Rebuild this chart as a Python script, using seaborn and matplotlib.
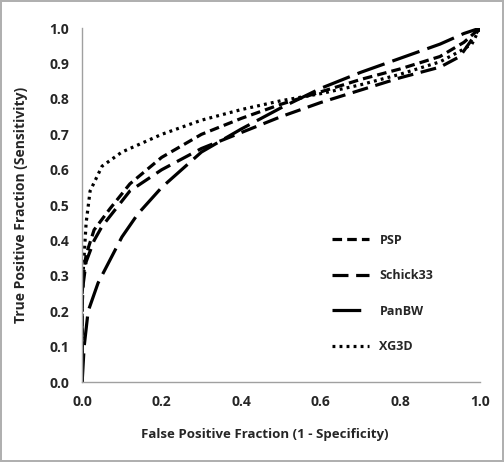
import pandas as pd
import matplotlib
matplotlib.use("Agg")
import matplotlib.pyplot as plt
import seaborn as sns

# ROC curve points
psp_x = [0, 0.0, 0.003, 0.01, 0.03, 0.07, 0.12, 0.2, 0.3, 0.4, 0.5, 0.6, 0.7, 0.8, 0.9, 0.96, 1.0]
psp_y = [0, 0.25, 0.30, 0.36, 0.43, 0.49, 0.56, 0.635, 0.70, 0.745, 0.785, 0.82, 0.855, 0.885, 0.92, 0.96, 1.0]

schick_x = [0, 0.0, 0.003, 0.01, 0.03, 0.05, 0.12, 0.2, 0.3, 0.4, 0.5, 0.6, 0.7, 0.8, 0.9, 0.95, 1.0]
schick_y = [0, 0.22, 0.28, 0.34, 0.40, 0.44, 0.54, 0.60, 0.66, 0.705, 0.75, 0.79, 0.825, 0.86, 0.89, 0.92, 1.0]

panbw_x = [0, 0.005, 0.015, 0.04, 0.07, 0.1, 0.14, 0.2, 0.24, 0.3, 0.4, 0.5, 0.6, 0.7, 0.8, 0.9, 0.96, 1.0]
panbw_y = [0, 0.10, 0.20, 0.28, 0.345, 0.41, 0.475, 0.55, 0.59, 0.65, 0.715, 0.775, 0.83, 0.875, 0.915, 0.955, 0.985, 1.0]

xg3d_x = [0, 0.0, 0.003, 0.01, 0.02, 0.05, 0.1, 0.2, 0.3, 0.4, 0.5, 0.6, 0.7, 0.8, 0.9, 0.95, 0.98, 1.0]
xg3d_y = [0, 0.25, 0.32, 0.45, 0.54, 0.61, 0.65, 0.70, 0.74, 0.77, 0.795, 0.815, 0.84, 0.87, 0.905, 0.935, 0.955, 1.0]

models = ['PSP', 'Schick33', 'PanBW', 'XG3D']

frames = []
for name, xs, ys in zip(models, [psp_x, schick_x, panbw_x, xg3d_x], [psp_y, schick_y, panbw_y, xg3d_y]):
    frames.append(pd.DataFrame({'fpr': xs, 'tpr': ys, 'model': name}))
df = pd.concat(frames, ignore_index=True)

sns.set_style('white')
plt.rcParams['font.family'] = ['Open Sans', 'DejaVu Sans']

fig = plt.figure(figsize=(5.04, 4.62), dpi=100)
fig.patch.set_edgecolor('#b0b0b0')
fig.patch.set_linewidth(1.5)
ax = fig.add_axes([0.163, 0.173, 0.789, 0.766])

dashes = {'PSP': (3, 1.6), 'Schick33': (5, 2.4), 'PanBW': (9, 2.6), 'XG3D': (0.9, 1.3)}
sns.lineplot(data=df, x='fpr', y='tpr', style='model', dashes=dashes, color='black',
             linewidth=2.3, estimator=None, sort=False, ax=ax)

ax.set_xlim(0, 1)
ax.set_ylim(0, 1)
ax.set_xticks([0, 0.2, 0.4, 0.6, 0.8, 1.0])
ax.set_yticks([i / 10 for i in range(11)])
ax.set_xticklabels(['0.0', '0.2', '0.4', '0.6', '0.8', '1.0'], fontsize=10, fontweight='bold')
ax.set_yticklabels(['%.1f' % (i / 10) for i in range(11)], fontsize=10, fontweight='bold')
ax.tick_params(direction='inout', length=7, width=1, color='#a0a0a0', pad=6)

for side in ['top', 'right']:
    ax.spines[side].set_visible(False)
for side in ['left', 'bottom']:
    ax.spines[side].set_color('#a0a0a0')
    ax.spines[side].set_linewidth(1)

ax.set_xlabel('False Positive Fraction (1 - Specificity)', fontsize=9.5, fontweight='bold')
ax.set_ylabel('True Positive Fraction (Sensitivity)', fontsize=10, fontweight='bold')
ax.xaxis.set_label_coords(0.46, -0.13)
ax.yaxis.set_label_coords(-0.135, 0.5)

leg = ax.legend(loc='center left', bbox_to_anchor=(0.6, 0.25), frameon=False, handlelength=3.0,
                labelspacing=1.8, handletextpad=0.8, prop={'weight': 'bold', 'size': 9})
for line in leg.get_lines():
    line.set_linewidth(2.3)

fig.savefig('out.png', dpi=100, edgecolor=fig.get_edgecolor())
